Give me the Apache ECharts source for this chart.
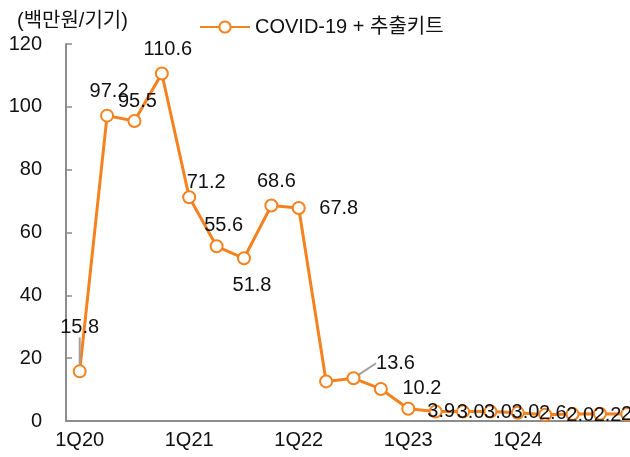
<html>
<head>
    <meta charset="utf-8">
    <title>Chart</title>
    <script src="https://cdn.jsdelivr.net/npm/echarts@6/dist/echarts.min.js"></script>
    <style>
        html, body { margin: 0; padding: 0; background: #fff; }
        #main { width: 630px; height: 457px; }
    </style>
</head>
<body>
    <div id="main"></div>
    <script type="text/javascript">
        // 분기별 데이터
        var quarters = ['1Q20', '2Q20', '3Q20', '4Q20', '1Q21', '2Q21', '3Q21', '4Q21',
                        '1Q22', '2Q22', '3Q22', '4Q22', '1Q23', '2Q23', '3Q23', '4Q23',
                        '1Q24', '2Q24', '3Q24', '4Q24', '1Q25'];
        var values = [15.8, 97.2, 95.5, 110.6, 71.2, 55.6, 51.8, 68.6,
                      67.8, 12.6, 13.6, 10.2, 3.9, 3.0, 3.0, 3.0,
                      2.6, 2.0, 2.2, 2.3, 2.2];
        var xTickLabels = ['1Q20', '1Q21', '1Q22', '1Q23', '1Q24'];
        var yTicks = [0, 20, 40, 60, 80, 100, 120];
        var seriesName = 'COVID-19 + 추출키트';
        var unitName = '(백만원/기기)';

        var orange = '#F5821F';
        var font = "'Liberation Sans', 'Noto Sans CJK KR', sans-serif";

        // 라벨 위치 (점 중심 기준)
        var labelShift = [[0, -44], [2, -24], [3, -19], [6, -24], [17, -15], [7, -21],
                          [8, 27], [5, -24], [40, 0], null, [42, -15], [41, 0], [33, 3],
                          [35, 1], [35, 1], [35, 1], [35, 1], [35, 1], [35, 1], [35, 1], [35, 1]];
        var guided = [0, 10];

        var seriesData = values.map(function (v, i) {
            if (!labelShift[i]) return { value: v, label: { show: false } };
            if (guided.indexOf(i) >= 0) return { value: v, labelLine: { show: true } };
            return { value: v };
        });

        var myChart = echarts.init(document.getElementById('main'));
        var option = {
            animation: false,
            textStyle: { fontFamily: font },
            title: {
                text: unitName,
                left: 12,
                top: 6,
                textStyle: { fontFamily: font, fontSize: 20, fontWeight: 'normal', color: '#111' }
            },
            legend: {
                left: 194,
                top: 12,
                itemWidth: 50,
                itemHeight: 14,
                itemGap: 4,
                textStyle: { fontFamily: font, fontSize: 20, color: '#111' },
                data: [seriesName]
            },
            grid: { left: 66, right: -11, top: 44, bottom: 36, containLabel: false, outerBoundsMode: 'none' },
            xAxis: {
                type: 'category',
                data: quarters,
                boundaryGap: true,
                axisLine: { lineStyle: { color: '#8c8c8c', width: 2 } },
                axisTick: { inside: true, interval: 0, length: 6, lineStyle: { color: '#8c8c8c', width: 1.5 } },
                axisLabel: {
                    interval: function (i, name) { return xTickLabels.indexOf(name) >= 0; },
                    margin: 9, fontSize: 20, color: '#111', fontFamily: font
                }
            },
            yAxis: {
                type: 'value',
                min: yTicks[0],
                max: yTicks[yTicks.length - 1],
                interval: 20,
                splitLine: { show: false },
                axisLine: { show: true, lineStyle: { color: '#8c8c8c', width: 2 } },
                axisTick: { show: true, inside: true, length: 6, lineStyle: { color: '#8c8c8c', width: 1.5 } },
                axisLabel: { margin: 24, fontSize: 20, color: '#111', fontFamily: font }
            },
            series: [{
                name: seriesName,
                type: 'line',
                data: seriesData,
                symbol: 'emptyCircle',
                symbolSize: 12,
                showAllSymbol: true,
                lineStyle: { color: orange, width: 3 },
                itemStyle: { color: orange, borderColor: orange, borderWidth: 2 },
                label: {
                    show: true,
                    position: 'inside',
                    align: 'center',
                    verticalAlign: 'middle',
                    fontSize: 20,
                    color: '#111',
                    fontFamily: font,
                    formatter: function (p) { return p.value.toFixed(1); }
                },
                labelLine: { show: false, lineStyle: { color: '#a0a0a0', width: 2 } },
                labelLayout: function (p) {
                    var s = labelShift[p.dataIndex];
                    return s ? { dx: s[0], dy: s[1] } : {};
                }
            }]
        };
        myChart.setOption(option);
    </script>
</body>
</html>
